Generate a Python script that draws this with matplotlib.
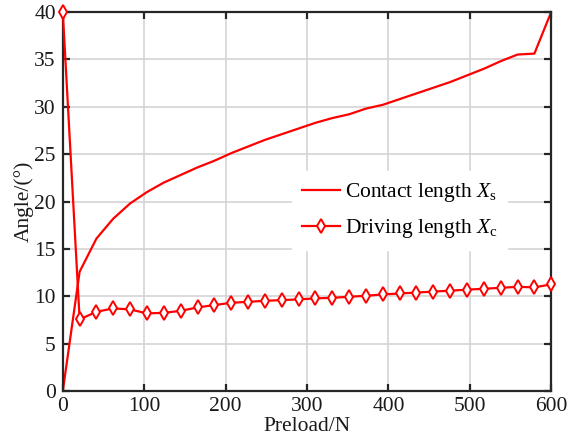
import numpy as np
import matplotlib
matplotlib.use("Agg")
import matplotlib.pyplot as plt

preload = np.linspace(0, 600, 30)
contact = [0.0, 12.6, 16.1, 18.2, 19.8, 21.0, 22.0, 22.8, 23.6, 24.3,
           25.1, 25.8, 26.5, 27.1, 27.7, 28.3, 28.8, 29.2, 29.8, 30.2,
           30.8, 31.4, 32.0, 32.6, 33.3, 34.0, 34.8, 35.5, 35.6, 40.0]
driving = [40.0, 7.57, 8.37, 8.73, 8.62, 8.2, 8.26, 8.47, 8.83, 9.08,
           9.32, 9.42, 9.53, 9.60, 9.68, 9.78, 9.85, 9.95, 10.06, 10.2,
           10.3, 10.4, 10.5, 10.6, 10.7, 10.8, 10.9, 11.0, 10.95, 11.26]
xticks = [0, 100, 200, 300, 400, 500, 600]
yticks = [0, 5, 10, 15, 20, 25, 30, 35, 40]

plt.rcParams['font.family'] = ['Liberation Serif', 'DejaVu Serif']
plt.rcParams['mathtext.fontset'] = 'custom'
plt.rcParams['mathtext.rm'] = 'Liberation Serif'
plt.rcParams['mathtext.it'] = 'Liberation Serif:italic'

fig = plt.figure(figsize=(5.76, 4.4), dpi=100)
ax = fig.add_axes([0.109, 0.111, 0.848, 0.862])

red = '#ff0000'
ax.plot(preload, contact, color=red, lw=1.6, label=r'Contact length $X_{\mathrm{s}}$')
ax.plot(preload, driving, color=red, lw=1.6, marker='d', markersize=7,
        markerfacecolor='white', markeredgewidth=1.4, clip_on=False, zorder=3,
        label=r'Driving length $X_{\mathrm{c}}$')

ax.set_xlim(0, 600)
ax.set_ylim(0, 40)
ax.set_xticks(xticks)
ax.set_yticks(yticks)
ax.grid(True, color='#d4d4d4', lw=1.2)
ax.set_axisbelow(True)
for s in ax.spines.values():
    s.set_linewidth(1.6)
    s.set_color('#262626')
ax.tick_params(direction='in', top=True, right=True, length=5, width=1.6,
               labelsize=15.5, colors='#262626', labelcolor='#1a1a1a')
ax.tick_params(axis='x', pad=4)
ax.tick_params(axis='y', pad=5)
ax.set_xlabel('Preload/N', fontsize=15.5, labelpad=1, color='#1a1a1a')
ax.set_ylabel('Angle/(°)', fontsize=15.5, labelpad=0, color='#1a1a1a')

leg = ax.legend(loc='center', bbox_to_anchor=(0.69, 0.476), fontsize=15.5,
                frameon=True, fancybox=False, framealpha=1, facecolor='white',
                edgecolor='white', handlelength=1.75, handletextpad=0.25,
                borderpad=0.45, labelspacing=0.6)

fig.savefig('out.png', dpi=100)
